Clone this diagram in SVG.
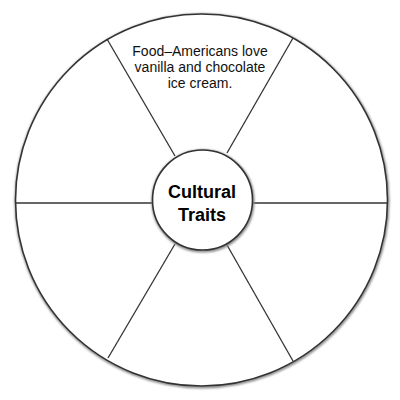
<svg xmlns="http://www.w3.org/2000/svg" width="400" height="400" viewBox="0 0 400 400">
<defs>
<filter id="sh" x="-10%" y="-10%" width="120%" height="120%">
<feGaussianBlur stdDeviation="1.3"/>
</filter>
</defs>
<style>
.ring{fill:#fff;stroke:#333;stroke-width:1.6}
.shadow{fill:none;stroke:#888;stroke-width:3;filter:url(#sh)}
.spoke{stroke:#333;stroke-width:1.3;fill:none}
.label{font-family:"Liberation Sans",Arial,sans-serif;font-size:14px;fill:#111;text-anchor:middle}
.center{font-family:"Liberation Sans",Arial,sans-serif;font-size:18px;font-weight:bold;fill:#000;text-anchor:middle}
</style>
<rect width="400" height="400" fill="#fff"/>
<g id="outer">
<circle class="shadow" cx="202" cy="201" r="186"/>
<circle class="ring" cx="201.5" cy="200" r="186"/>
</g>
<g id="connectors">
<line class="spoke" x1="16" y1="203" x2="153" y2="203"/>
<line class="spoke" x1="252" y1="203" x2="387" y2="203"/>
<line class="spoke" x1="107" y1="39" x2="175" y2="156"/>
<line class="spoke" x1="293" y1="38" x2="227" y2="153"/>
<line class="spoke" x1="108" y1="358" x2="175" y2="244"/>
<line class="spoke" x1="293" y1="361" x2="227" y2="245"/>
</g>
<g id="hub">
<circle class="shadow" cx="203" cy="201" r="50"/>
<circle class="ring" cx="202.5" cy="200" r="50"/>
<text class="center" x="202" y="198">Cultural</text>
<text class="center" x="202" y="221">Traits</text>
</g>
<g id="food">
<text class="label" x="200" y="56">Food–Americans love</text>
<text class="label" x="200" y="72">vanilla and chocolate</text>
<text class="label" x="200" y="88">ice cream.</text>
</g>
</svg>
